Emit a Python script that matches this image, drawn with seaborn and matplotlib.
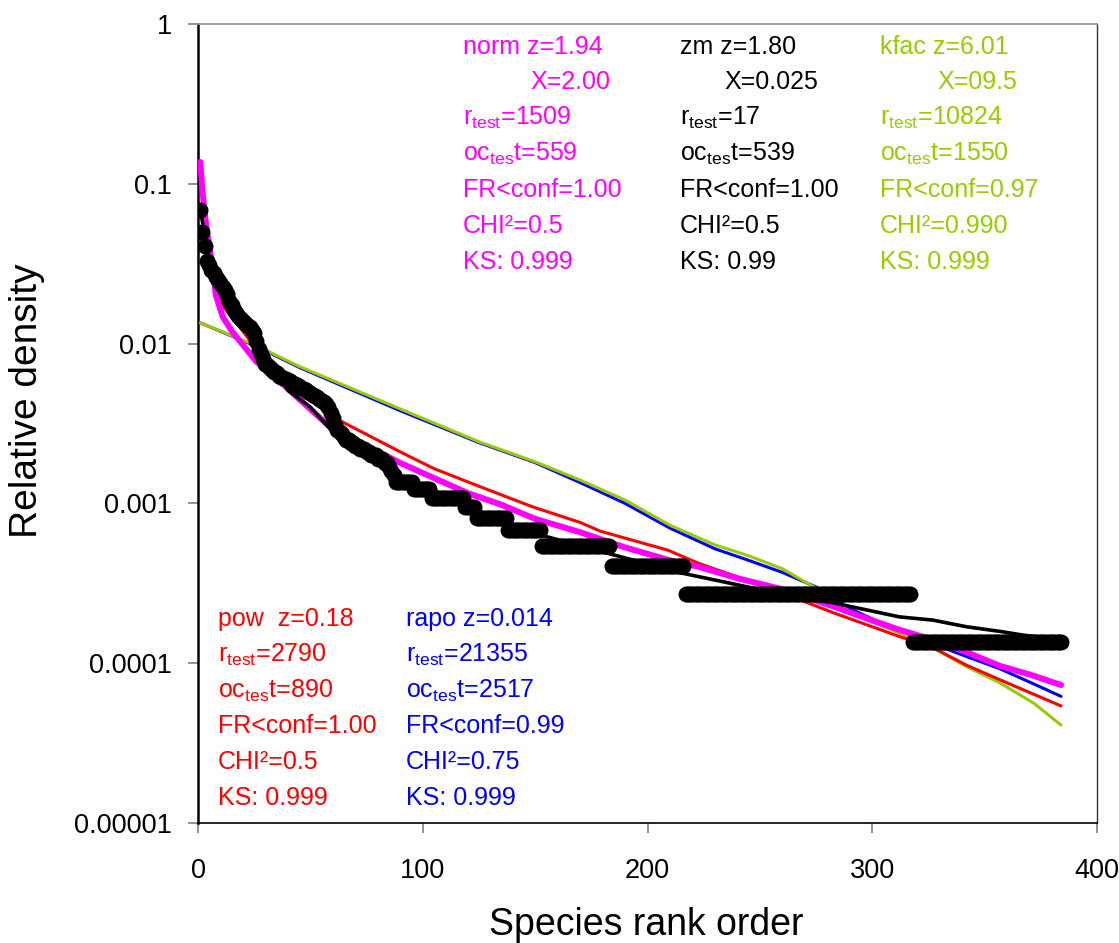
import numpy as np
import pandas as pd
import matplotlib
matplotlib.use("Agg")
import matplotlib.pyplot as plt
import seaborn as sns

# ---------------- data ----------------
# observed relative densities, ranks 1..87
obs_top = [0.069, 0.050, 0.041, 0.033, 0.031, 0.029, 0.0275, 0.026, 0.025, 0.024,
           0.0225, 0.0215, 0.0205, 0.0185, 0.0175, 0.0162, 0.0155, 0.0148, 0.0143, 0.0139,
           0.0135, 0.0131, 0.0127, 0.0122, 0.0116, 0.0104, 0.0093, 0.0086, 0.0080, 0.0075,
           0.0072, 0.0070, 0.0068, 0.0066, 0.0065, 0.0063, 0.0062, 0.0061, 0.0060, 0.0059,
           0.0058, 0.0057, 0.0056, 0.0055, 0.0054, 0.0053, 0.0052, 0.0051, 0.0050, 0.0049,
           0.0048, 0.0047, 0.0046, 0.0045, 0.0044, 0.0043, 0.0042, 0.0040, 0.0037, 0.0034,
           0.0031, 0.0029, 0.0028, 0.0027, 0.0026, 0.0025, 0.0025, 0.0024, 0.0024, 0.0023,
           0.0023, 0.0022, 0.0022, 0.0022, 0.0021, 0.0021, 0.0020, 0.0020, 0.0020, 0.0019,
           0.0019, 0.0019, 0.0018, 0.0018, 0.0017, 0.0016, 0.0015]
# rare tail: abundance classes (in individuals) and number of species in each
tail_units = [10, 9, 8, 7, 6, 5, 4, 3, 2, 1]
tail_species = [8, 8, 15, 5, 14, 15, 31, 33, 101, 67]
unit_density = 1.36e-4

# fitted models (rank, relative density)
norm_rank = [1, 2, 3, 4, 5, 6, 8, 11, 15, 19, 26, 31, 37, 45, 60, 75, 90, 105, 120, 135,
             150, 170, 190, 210, 223, 240, 260, 283, 300, 312, 327, 342, 357, 370, 384]
norm_val = [0.137, 0.090, 0.065, 0.050, 0.041, 0.033, 0.020, 0.0147, 0.0120, 0.0102,
            0.0077, 0.0068, 0.0057, 0.0045, 0.0029, 0.0023, 0.00179, 0.00144, 0.00116, 0.00098,
            0.00080, 0.00066, 0.00053, 0.00044, 0.00040, 0.00034, 0.00029, 0.000226, 0.000185,
            0.000162, 0.000140, 0.000117, 0.000096, 0.000085, 0.000073]

pow_rank = [1, 2, 3, 5, 8, 12, 16, 23, 30, 45, 63, 75, 90, 105, 125, 149, 170, 179, 209,
            223, 253, 283, 312, 327, 342, 357, 384]
pow_val = [0.125, 0.080, 0.058, 0.038, 0.023, 0.0165, 0.0141, 0.0105, 0.0085, 0.0055,
           0.0033, 0.0027, 0.0021, 0.00165, 0.00128, 0.00095, 0.00076, 0.00067, 0.00051,
           0.00042, 0.00030, 0.000206, 0.000147, 0.000125, 0.000097, 0.0000785, 0.000054]

rapo_rank = [1, 26, 45, 90, 125, 150, 170, 190, 210, 230, 245, 260, 275, 290, 312, 327,
             342, 357, 372, 384]
rapo_val = [0.0135, 0.0096, 0.0071, 0.0038, 0.0024, 0.0018, 0.00135, 0.00100, 0.00070,
            0.00052, 0.00044, 0.00037, 0.00030, 0.00022, 0.000158, 0.000132, 0.000110,
            0.000092, 0.000074, 0.000062]

kfac_rank = [1, 26, 45, 90, 125, 150, 170, 190, 210, 230, 245, 260, 275, 290, 312, 327,
             342, 357, 372, 384]
kfac_val = [0.0135, 0.0097, 0.0072, 0.0039, 0.00243, 0.00182, 0.0014, 0.00105, 0.00073,
            0.00055, 0.00047, 0.00039, 0.000295, 0.00021, 0.000154, 0.000125, 0.000095,
            0.000075, 0.000056, 0.000041]

zm_rank = [1, 5, 10, 20, 30, 40, 50, 60, 75, 90, 110, 130, 155, 177, 215, 237, 260, 283,
           312, 327, 342, 357, 367, 384]
zm_val = [0.070, 0.032, 0.022, 0.0135, 0.0085, 0.0051, 0.0040, 0.0028, 0.0021, 0.0015,
          0.00112, 0.00083, 0.00062, 0.00051, 0.000367, 0.000316, 0.00027, 0.000238,
          0.000195, 0.000186, 0.000169, 0.000158, 0.00015, 0.00014]

y_ticks = [0.00001, 0.0001, 0.001, 0.01, 0.1, 1]
y_tick_labels = ["0.00001", "0.0001", "0.001", "0.01", "0.1", "1"]
x_ticks = [0, 100, 200, 300, 400]

MAGENTA = "#FF00FF"
RED = "#FF0000"
BLUE = "#0000FF"
GREEN = "#99CC00"

# annotation blocks
top_blocks = [
    (MAGENTA, ["norm z=1.94", "X=2.00", "r$_\\mathregular{test}$=1509",
               "oc$_\\mathregular{tes}$t=559", "FR<conf=1.00", "CHI\u00b2=0.5", "KS: 0.999"]),
    ("black", ["zm z=1.80", "X=0.025", "r$_\\mathregular{test}$=17",
               "oc$_\\mathregular{tes}$t=539", "FR<conf=1.00", "CHI\u00b2=0.5", "KS: 0.99"]),
    (GREEN, ["kfac z=6.01", "X=09.5", "r$_\\mathregular{test}$=10824",
             "oc$_\\mathregular{tes}$t=1550", "FR<conf=0.97", "CHI\u00b2=0.990", "KS: 0.999"]),
]
bottom_blocks = [
    (RED, ["pow  z=0.18", "r$_\\mathregular{test}$=2790", "oc$_\\mathregular{tes}$t=890",
           "FR<conf=1.00", "CHI\u00b2=0.5", "KS: 0.999"]),
    (BLUE, ["rapo z=0.014", "r$_\\mathregular{test}$=21355", "oc$_\\mathregular{tes}$t=2517",
            "FR<conf=0.99", "CHI\u00b2=0.75", "KS: 0.999"]),
]

# ---------------- figure ----------------
sns.set_style("white")
plt.rcParams["font.family"] = ["Liberation Sans", "DejaVu Sans"]
plt.rcParams["mathtext.fontset"] = "custom"
plt.rcParams["mathtext.rm"] = "Liberation Sans"

W, H = 1119, 943
fig = plt.figure(figsize=(W / 100, H / 100), dpi=100)
ax = fig.add_axes([198 / W, 1 - 823 / H, 899 / W, 799 / H])

obs_val = np.concatenate([np.array(obs_top),
                          np.repeat(np.array(tail_units) * unit_density, tail_species)])
obs_df = pd.DataFrame({"rank": np.arange(1, len(obs_val) + 1), "dens": obs_val})

def line(r, v, color, lw, z):
    df = pd.DataFrame({"rank": r, "dens": v})
    sns.lineplot(data=df, x="rank", y="dens", ax=ax, color=color, lw=lw,
                 errorbar=None, zorder=z)

line(rapo_rank, rapo_val, BLUE, 2.2, 2)
line(kfac_rank, kfac_val, GREEN, 2.2, 3)
line(pow_rank, pow_val, RED, 2.2, 4)
line(norm_rank, norm_val, MAGENTA, 4.3, 5)
line(zm_rank, zm_val, "black", 2.6, 6)
sns.lineplot(data=obs_df, x="rank", y="dens", ax=ax, color="black", linestyle="none",
             marker="o", markersize=11.5, markeredgewidth=0, errorbar=None, zorder=7)

ax.set_yscale("log")
ax.set_ylim(1e-5, 1)
ax.set_xlim(0, 400)
ax.set_yticks(y_ticks)
ax.set_yticklabels(y_tick_labels)
ax.yaxis.set_minor_locator(matplotlib.ticker.NullLocator())
ax.set_xticks(x_ticks)
ax.set_xticklabels([str(t) for t in x_ticks])
ax.tick_params(axis="both", which="major", labelsize=19.5, length=7.5, width=1.2,
               color="#808080", direction="out", labelcolor="black")
ax.tick_params(axis="x", pad=18, bottom=True)
ax.tick_params(axis="y", pad=11, left=True)

ax.set_xlabel("Species rank order", fontsize=27, color="black")
ax.set_ylabel("Relative density", fontsize=28, color="black")
ax.xaxis.set_label_coords(0.498, -0.128)
ax.yaxis.set_label_coords(-0.19, 0.529)
ax.xaxis.label.set_va("center")
ax.yaxis.label.set_va("center")

for side, c, w in [("left", "black", 1.8), ("bottom", "black", 1.2),
                   ("top", "#999999", 1.3), ("right", "#333333", 1.0)]:
    ax.spines[side].set_visible(True)
    ax.spines[side].set_color(c)
    ax.spines[side].set_linewidth(w)

# annotations
def put(xpx, ypx, s, color):
    fig.text(xpx / W, 1 - ypx / H, s, color=color, fontsize=18, ha="left", va="baseline")

top_x = [463, 680, 880]
top_xx = [530, 724, 937]
top_base = [54, 89, 125, 161, 197, 233, 269]
for (color, lines), x0, xx in zip(top_blocks, top_x, top_xx):
    for i, s in enumerate(lines):
        put(xx if i == 1 else x0, top_base[i], s, color)

bot_x = [218, 406]
bot_base = [626, 662, 698, 733, 769, 805]
for (color, lines), x0 in zip(bottom_blocks, bot_x):
    for i, s in enumerate(lines):
        put(x0, bot_base[i], s, color)

fig.savefig("out.png", dpi=100)
